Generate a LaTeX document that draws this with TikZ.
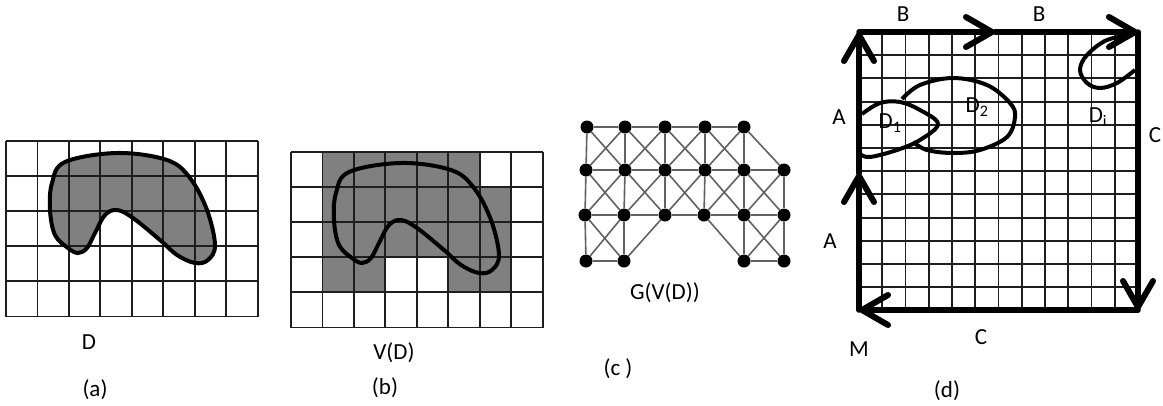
\documentclass[tikz,border=0pt]{standalone}
\usepackage{fontspec}
\setmainfont{Carlito}
\usetikzlibrary{arrows.meta, positioning}
\definecolor{softgray}{RGB}{128, 128, 128}
\definecolor{linegray}{RGB}{30, 30, 30}
\newcommand{\blobshape}{plot[smooth cycle, tension=0.6] coordinates {(50,210) (52,183) (65,162) (117,153) (167,160) (190,178) (207,210) (215,245) (208,260) (195,263) (177,255) (160,240) (133,218) (117,210) (105,215) (95,233) (87,248) (78,253) (68,248) (55,235)}}

\begin{document}
\begin{tikzpicture}[
    x=1pt, y=-1pt,
    font=\fontsize{23}{25}\selectfont,
    cellline/.style={draw=linegray, line width=1.9pt},
    outline/.style={draw=black, line width=4pt},
    frameline/.style={draw=black, line width=5.5pt},
    framearrow/.style={frameline, line cap=round, -{Straight Barb[length=26pt, width=30pt, line width=6pt, round]}},
    vertex/.style={circle, fill=black, inner sep=0pt, minimum size=13pt},
    edge/.style={draw=linegray!70, line width=1.6pt},
    label/.style={inner sep=0pt, text=black}
]
    \useasboundingbox (0,0) rectangle (1163,405);

    % Shaded regions
    \fill[softgray] \blobshape;
    \fill[softgray] (322,152) -- (479,152) -- (479,187) -- (511,187) -- (511,292) -- (448,292) -- (448,257) -- (385,257) -- (385,292) -- (322,292) -- cycle;

    % Grids (a) and (b)
    \foreach \ox/\oy in {6/141, 291/152} {
        \foreach \i in {0,...,8}
            \draw[cellline] ({\ox+31.45*\i},\oy) -- ({\ox+31.45*\i},\oy+175.5);
        \foreach \j in {0,...,5}
            \draw[cellline] (\ox,{\oy+35.1*\j}) -- (\ox+251.6,{\oy+35.1*\j});
    }

    % Outlines
    \draw[outline] \blobshape;
    \begin{scope}[xshift=284pt, yshift=-10pt]
        \draw[outline] \blobshape;
    \end{scope}

    % Graph nodes
    \foreach \name/\xc/\yc in {a1/587/127, a2/625/127, a3/665/127, a4/705/127, a5/744/127,
        b1/586/170, b2/625/170, b3/665/170, b4/705/170, b5/744/170, b6/784/170,
        c1/585/215, c2/624/215, c3/665/215, c4/704/215, c5/744/215, c6/784/215,
        d1/586/261, d2/624/261, d5/744/261, d6/784/261}
        \node[vertex] (\name) at (\xc,\yc) {};

    % Graph edges
    \foreach \from/\to in {a1/a2, a2/a3, a3/a4, a4/a5, b1/b2, b2/b3, b3/b4, b4/b5, b5/b6,
        c1/c2, c2/c3, c3/c4, c4/c5, c5/c6, d1/d2, d5/d6,
        a1/b1, a2/b2, a3/b3, a4/b4, a5/b5, b1/c1, b2/c2, b3/c3, b4/c4, b5/c5, b6/c6,
        c1/d1, c2/d2, c5/d5, c6/d6,
        a1/b2, a2/b1, a2/b3, a3/b2, a3/b4, a4/b3, a4/b5, a5/b4, a5/b6,
        b1/c2, b2/c1, b2/c3, b3/c2, b3/c4, b4/c3, b4/c5, b5/c4, b5/c6, b6/c5,
        c1/d2, c2/d1, c3/d2, c4/d5, c5/d6, c6/d5}
        \draw[edge] (\from) -- (\to);

    % Grid (d)
    \foreach \i in {1,...,11} {
        \draw[cellline] ({859+23.25*\i},32) -- ({859+23.25*\i},310);
        \draw[cellline] (859,{32+23.2*\i}) -- (1138,{32+23.2*\i});
    }

    % Frame corners and arrow ends
    \coordinate (cornerM) at (859,310);
    \coordinate (cornerTL) at (859,32);
    \coordinate (cornerTR) at (1138,32);
    \coordinate (cornerBR) at (1138,310);
    \coordinate (midA) at (859,173);
    \coordinate (midB) at (995,32);

    \draw[framearrow] (cornerM) -- (midA);
    \draw[framearrow] (midA) -- (cornerTL);
    \draw[framearrow] (cornerTL) -- (midB);
    \draw[framearrow] (midB) -- (cornerTR);
    \draw[framearrow] (cornerTR) -- (cornerBR);
    \draw[framearrow] (cornerBR) -- (cornerM);

    % Domains
    \draw[outline] plot[smooth, tension=0.6] coordinates {(862,114) (880,103) (900,102) (920,110) (938,124) (920,140) (897,150) (870,157) (860,154)};
    \draw[outline] plot[smooth, tension=0.6] coordinates {(902,99) (920,85) (953,78) (987,85) (1010,103) (1015,117) (1007,137) (980,150) (953,153) (927,150) (913,142)};
    \draw[outline] plot[smooth, tension=0.6] coordinates {(1133,35) (1107,40) (1087,55) (1080,70) (1087,83) (1100,88) (1117,83) (1135,70)};

    % Labels
    \node[label] (labelD) at (89,342) {D};
    \node[label] (labelVD) at (394,353) {V(D)};
    \node[label] (labelG) at (665,293) {G(V(D))};
    \node[label] (capa) at (95,390) {(a)};
    \node[label] (capb) at (385,388) {(b)};
    \node[label] (capc) at (618,369) {(c )};
    \node[label] (capd) at (947,391) {(d)};
    \node[label] (labelB1) at (903,14) {B};
    \node[label] (labelB2) at (1039,14) {B};
    \node[label] (labelA1) at (839,117) {A};
    \node[label] (labelA2) at (830,241) {A};
    \node[label] (labelC1) at (1155,135) {C};
    \node[label] (labelC2) at (981,337) {C};
    \node[label] (labelM) at (859,349) {M};
    \node[label] (labelD1) at (890,123) {D\textsubscript{1}};
    \node[label] (labelD2) at (977,107) {D\textsubscript{2}};
    \node[label] (labelDi) at (1098,117) {D\textsubscript{i}};
\end{tikzpicture}
\end{document}
